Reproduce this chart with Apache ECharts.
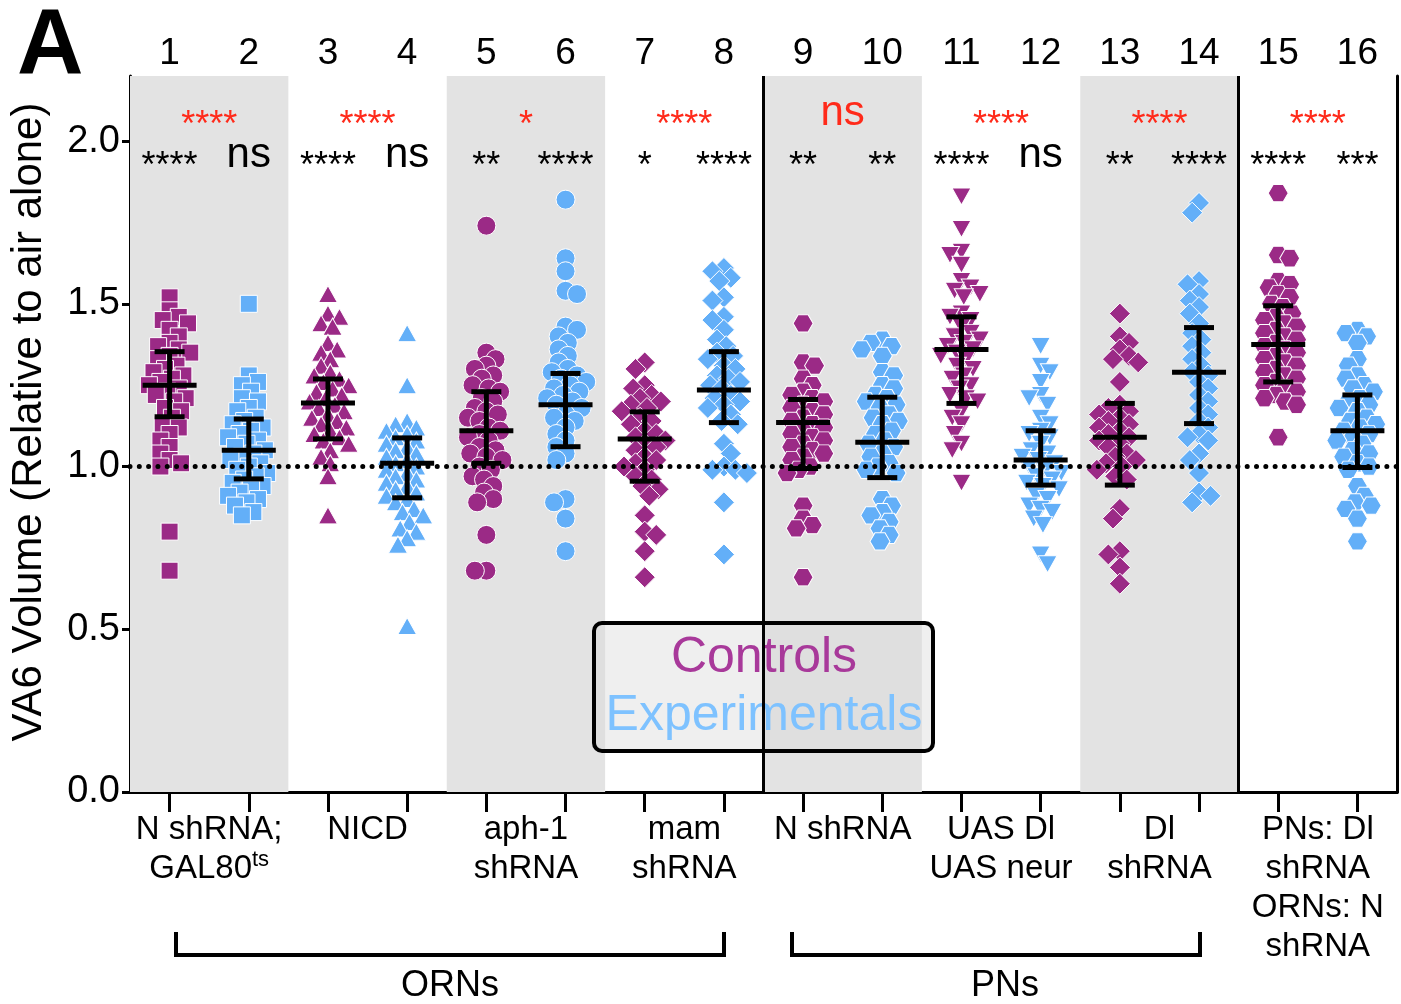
<!DOCTYPE html>
<html><head><meta charset="utf-8">
<script src="https://cdn.jsdelivr.net/npm/echarts@6/dist/echarts.min.js"></script>
<style>html,body{margin:0;padding:0;background:#fff}#c{width:1401px;height:1004px}</style>
</head><body><div id="c"></div>
<script>
// ---------------- data ----------------
const groupNumbers = ['1','2','3','4','5','6','7','8','9','10','11','12','13','14','15','16'];
const pairLabels = ['N shRNA;\nGAL80{sup|ts}', 'NICD', 'aph-1\nshRNA', 'mam\nshRNA', 'N shRNA', 'UAS Dl\nUAS neur', 'Dl\nshRNA', 'PNs: Dl\nshRNA\nORNs: N\nshRNA'];
const yTickValues = [0, 0.5, 1.0, 1.5, 2.0];

const grp1 = [1.52,1.48,1.46,1.45,1.44,1.42,1.40,1.38,1.37,1.36,1.35,1.34,1.33,1.31,1.30,1.29,1.28,1.27,1.26,1.25,1.24,1.23,1.22,1.21,1.20,1.18,1.17,1.15,1.13,1.12,1.10,1.08,1.06,1.04,1.02,1.01,1.00,0.80,0.68];
const grp2 = [1.50,1.28,1.26,1.25,1.23,1.21,1.20,1.18,1.17,1.15,1.14,1.13,1.12,1.11,1.10,1.09,1.08,1.07,1.06,1.05,1.04,1.03,1.02,1.01,1.00,0.99,0.98,0.97,0.96,0.95,0.94,0.93,0.92,0.91,0.90,0.89,0.88,0.86,0.85];
const grp3 = [1.53,1.47,1.46,1.44,1.43,1.38,1.36,1.35,1.33,1.31,1.29,1.28,1.27,1.26,1.25,1.24,1.23,1.22,1.21,1.20,1.19,1.18,1.17,1.16,1.15,1.14,1.13,1.12,1.11,1.10,1.09,1.08,1.07,1.05,1.03,1.01,0.97,0.85];
const grp4 = [1.41,1.25,1.14,1.13,1.12,1.11,1.10,1.09,1.08,1.07,1.06,1.05,1.04,1.03,1.02,1.01,1.00,0.99,0.98,0.97,0.96,0.95,0.94,0.93,0.92,0.91,0.90,0.89,0.87,0.86,0.85,0.83,0.81,0.80,0.78,0.76,0.51];
const grp5 = [1.74,1.35,1.33,1.31,1.30,1.28,1.27,1.25,1.24,1.23,1.21,1.20,1.18,1.17,1.16,1.15,1.14,1.12,1.11,1.10,1.09,1.08,1.06,1.05,1.04,1.03,1.02,1.00,0.99,0.97,0.96,0.94,0.92,0.90,0.89,0.79,0.68,0.68];
const grp6 = [1.82,1.64,1.60,1.54,1.53,1.43,1.42,1.40,1.38,1.36,1.34,1.32,1.30,1.29,1.28,1.27,1.26,1.25,1.24,1.23,1.22,1.21,1.20,1.19,1.18,1.16,1.15,1.14,1.12,1.10,1.08,1.06,1.04,1.02,0.90,0.89,0.84,0.74];
const grp7 = [1.32,1.30,1.25,1.24,1.22,1.21,1.20,1.19,1.18,1.17,1.15,1.14,1.13,1.11,1.10,1.09,1.08,1.07,1.06,1.05,1.03,1.02,1.01,1.00,0.99,0.97,0.96,0.94,0.93,0.91,0.85,0.80,0.79,0.74,0.66];
const grp8 = [1.61,1.60,1.58,1.57,1.52,1.51,1.46,1.45,1.42,1.39,1.37,1.35,1.34,1.33,1.31,1.30,1.28,1.27,1.26,1.25,1.24,1.22,1.21,1.20,1.19,1.18,1.16,1.14,1.13,1.07,1.04,1.00,0.99,0.99,0.98,0.89,0.73];
const grp9 = [1.44,1.32,1.31,1.27,1.25,1.23,1.22,1.21,1.20,1.19,1.18,1.17,1.16,1.15,1.14,1.13,1.12,1.11,1.10,1.09,1.08,1.07,1.06,1.05,1.04,1.03,1.02,1.00,0.99,0.98,0.88,0.84,0.82,0.81,0.66];
const grp10 = [1.39,1.38,1.37,1.36,1.34,1.29,1.28,1.25,1.24,1.22,1.21,1.20,1.19,1.18,1.16,1.15,1.14,1.13,1.11,1.10,1.08,1.07,1.06,1.04,1.03,1.01,1.00,0.99,0.98,0.90,0.88,0.86,0.85,0.83,0.81,0.79,0.77];
const grp11 = [1.83,1.73,1.66,1.65,1.62,1.57,1.55,1.54,1.53,1.52,1.47,1.46,1.45,1.43,1.41,1.40,1.39,1.38,1.37,1.36,1.35,1.34,1.33,1.31,1.30,1.28,1.27,1.25,1.24,1.22,1.21,1.20,1.17,1.15,1.13,1.10,1.07,1.05,0.95];
const grp12 = [1.37,1.31,1.29,1.26,1.22,1.21,1.19,1.15,1.13,1.11,1.10,1.09,1.07,1.05,1.04,1.03,1.02,1.01,1.00,0.99,0.98,0.97,0.96,0.95,0.94,0.93,0.91,0.90,0.88,0.87,0.86,0.84,0.82,0.73,0.70];
const grp13 = [1.47,1.40,1.38,1.36,1.34,1.33,1.32,1.26,1.19,1.18,1.17,1.16,1.15,1.14,1.13,1.12,1.11,1.10,1.09,1.08,1.07,1.06,1.04,1.03,1.02,1.01,1.00,0.99,0.97,0.96,0.87,0.84,0.74,0.73,0.69,0.64];
const grp14 = [1.81,1.78,1.57,1.56,1.53,1.51,1.49,1.47,1.44,1.41,1.39,1.37,1.35,1.33,1.31,1.29,1.28,1.26,1.24,1.22,1.20,1.18,1.16,1.14,1.12,1.10,1.09,1.08,1.04,1.02,0.98,0.92,0.91,0.89];
const grp15 = [1.84,1.65,1.64,1.57,1.56,1.55,1.53,1.52,1.50,1.49,1.47,1.46,1.45,1.44,1.43,1.42,1.41,1.40,1.39,1.38,1.37,1.36,1.35,1.34,1.33,1.32,1.31,1.30,1.29,1.28,1.27,1.26,1.25,1.24,1.23,1.22,1.21,1.20,1.19,1.09];
const grp16 = [1.42,1.41,1.40,1.38,1.33,1.31,1.28,1.27,1.25,1.24,1.23,1.21,1.20,1.19,1.18,1.17,1.15,1.14,1.13,1.12,1.11,1.10,1.09,1.08,1.07,1.05,1.04,1.03,1.01,1.00,0.99,0.94,0.91,0.89,0.88,0.87,0.84,0.77];

const meanVals = [1.25,1.05,1.195,1.01,1.11,1.19,1.085,1.235,1.135,1.075,1.36,1.02,1.09,1.29,1.375,1.11];
const errLow   = [1.153,0.962,1.085,0.904,1.01,1.061,0.955,1.135,0.994,0.966,1.194,0.943,0.943,1.132,1.26,0.997];
const errHigh  = [1.353,1.146,1.269,1.088,1.23,1.286,1.168,1.353,1.206,1.213,1.46,1.11,1.194,1.427,1.494,1.22];

const sigVsAir  = ['****','ns','****','ns','**','****','*','****','**','**','****','ns','**','****','****','***'];
const sigPair   = ['****','****','*','****','ns','****','****','****'];
const referenceLevel = 1.0;

// ---------------- layout / style ----------------
const FONT = "'Liberation Sans', Arial, Helvetica, sans-serif";
const MAGENTA = '#9B2A86';
const BLUE = '#63AFF8';
const GRID = {left:130, right:4, top:76, bottom:212};
const W = 1401, H = 1004;
const YMAX = 2.2;
const pxPerX = (W - GRID.left - GRID.right) / 16;
const pxPerY = (H - GRID.top - GRID.bottom) / YMAX;
const HEX = 'path://M0,0.866L0.5,0L1.5,0L2,0.866L1.5,1.732L0.5,1.732Z';
const DOWN = 'path://M0,0L2,0L1,1.732Z';
const pairSymbols = ['rect','triangle','circle','diamond',HEX,DOWN,'diamond',HEX];
const pairSizes = [[17,17],[19,17],[19,19],[21,21],[20,17.3],[19,17],[21,21],[20,17.3]];
const groups = [grp1,grp2,grp3,grp4,grp5,grp6,grp7,grp8,grp9,grp10,grp11,grp12,grp13,grp14,grp15,grp16];

// deterministic beeswarm offsets (pixels)
function swarm(vals){
  const minD = 11, step = 2.3, maxK = 11;
  const order = vals.map((v,i)=>i).sort((a,b)=>vals[b]-vals[a]);
  const placed = [], res = new Array(vals.length);
  let flip = 1;
  order.forEach(i=>{
    const y = vals[i]*pxPerY;
    const cands=[0];
    for(let k=1;k<=maxK;k++){cands.push(flip*k*step, -flip*k*step);}
    let bestX=0, bestScore=-1;
    for(const cx of cands){
      let md=Infinity;
      for(const p of placed){const d=Math.hypot(p.x-cx,p.y-y); if(d<md) md=d;}
      if(md>=minD){bestX=cx; bestScore=Infinity; break;}
      if(md>bestScore){bestScore=md; bestX=cx;}
    }
    flip = -flip;
    placed.push({x:bestX,y}); res[i]=bestX;
  });
  return res;
}

function buildSeriesData(parity){
  const out=[];
  groups.forEach((vals,gi)=>{
    if(gi%2!==parity) return;
    const offs = swarm(vals);
    const pair = Math.floor(gi/2);
    vals.forEach((v,j)=>{
      out.push({value:[gi+1+offs[j]/pxPerX, v], symbol:pairSymbols[pair], symbolSize:pairSizes[pair]});
    });
  });
  return out;
}

const errData = meanVals.map((m,i)=>[i+1, m, errLow[i], errHigh[i]]);
const sigData = sigVsAir.map((s,i)=>[i+1, 1.948, s, 0]);
const pairSigData = sigPair.map((s,i)=>[2*i+1.5, 2.075, s, 1]);

const chart = echarts.init(document.getElementById('c'), null, {renderer:'canvas'});
const option = {
  backgroundColor:'#fff',
  animation:false,
  textStyle:{fontFamily:FONT},
  grid:{left:GRID.left, right:GRID.right, top:GRID.top, bottom:GRID.bottom, show:false},
  legend:{
    left:594, top:623, orient:'vertical', selectedMode:false,
    icon:'none', itemWidth:0, itemHeight:0, itemGap:8,
    padding:[10,4,10,0],
    backgroundColor:'rgba(218,218,218,0.43)', borderColor:'#000', borderWidth:4, borderRadius:8,
    formatter: n => n==='Controls' ? '{c|'+n+'}' : '{e|'+n+'}',
    textStyle:{rich:{
      c:{color:'#A8399A', fontSize:50, width:330, align:'center', lineHeight:54, fontFamily:FONT},
      e:{color:'#7EC2FF', fontSize:50, width:330, align:'center', lineHeight:54, fontFamily:FONT}
    }},
    data:['Controls','Experimentals']
  },
  xAxis:[
    {type:'value', min:0.5, max:16.5, position:'bottom', axisLine:{show:true, onZero:false, lineStyle:{color:'#000', width:3}},
     axisTick:{show:false}, axisLabel:{show:false}, splitLine:{show:false}},
    {type:'category', data:groupNumbers, position:'bottom', gridIndex:0,
     axisLine:{show:false}, axisTick:{show:true, alignWithLabel:true, length:20, lineStyle:{color:'#000', width:3}},
     axisLabel:{show:false}, splitLine:{show:false}},
    {type:'category', data:groupNumbers, position:'top', gridIndex:0,
     axisLine:{show:true, lineStyle:{color:'#000', width:3}}, axisTick:{show:false},
     axisLabel:{show:true, color:'#000', fontSize:37, margin:4, fontFamily:FONT}},
    {type:'category', data:pairLabels, position:'bottom', gridIndex:0,
     axisLine:{show:false}, axisTick:{show:false},
     axisLabel:{show:true, interval:0, color:'#000', fontSize:33, lineHeight:39, margin:18, fontFamily:FONT,
       rich:{sup:{fontSize:22, verticalAlign:'top', lineHeight:39, padding:[0,0,14,0], color:'#000', fontFamily:FONT}}}}
  ],
  yAxis:[
    {type:'value', min:0, max:YMAX, interval:0.5, position:'left',
     name:'VA6 Volume (Relative to air alone)', nameLocation:'middle', nameGap:80,
     nameTextStyle:{fontSize:42, color:'#000', fontFamily:FONT, padding:[0,0,0,24]},
     axisLine:{show:true, lineStyle:{color:'#000', width:3}},
     axisTick:{show:true, customValues:yTickValues, length:8, lineStyle:{color:'#000', width:3}},
     axisLabel:{show:true, customValues:yTickValues, formatter:v=>v.toFixed(1), color:'#000', fontSize:38, margin:10, fontFamily:FONT},
     splitLine:{show:false}},
    {type:'value', min:0, max:YMAX, position:'right',
     axisLine:{show:true, lineStyle:{color:'#000', width:3}}, axisTick:{show:false}, axisLabel:{show:false}, splitLine:{show:false}}
  ],
  graphic:[
    {type:'text', left:17, top:2, style:{text:'A', font:'900 92px '+FONT, fill:'#000'}},
    {type:'polyline', shape:{points:[[176,932],[176,955],[724,955],[724,932]]}, style:{stroke:'#000', lineWidth:4, fill:null}},
    {type:'polyline', shape:{points:[[792,932],[792,955],[1200,955],[1200,932]]}, style:{stroke:'#000', lineWidth:4, fill:null}},
    {type:'text', x:450, y:986, style:{text:'ORNs', font:'36px '+FONT, fill:'#000', align:'center', verticalAlign:'middle', textAlign:'center', textVerticalAlign:'middle'}},
    {type:'text', x:1005, y:986, style:{text:'PNs', font:'36px '+FONT, fill:'#000', align:'center', verticalAlign:'middle', textAlign:'center', textVerticalAlign:'middle'}}
  ],
  series:[
    {type:'line', name:'bg', xAxisIndex:0, yAxisIndex:0, data:[], z:1, silent:true,
     markArea:{silent:true, itemStyle:{color:'#E3E3E3'}, data:[
       [{xAxis:0.5},{xAxis:2.5}],[{xAxis:4.5},{xAxis:6.5}],[{xAxis:8.5},{xAxis:10.5}],[{xAxis:12.5},{xAxis:14.5}]
     ]},
     markLine:{silent:true, symbol:'none', label:{show:false}, animation:false, data:[
       {yAxis:referenceLevel, lineStyle:{color:'#000', width:5, type:[0.01,9.3], cap:'round'}},
       {xAxis:8.5, lineStyle:{color:'#000', width:3, type:'solid'}},
       {xAxis:14.5, lineStyle:{color:'#000', width:3, type:'solid'}}
     ]}},
    {type:'scatter', name:'Controls', xAxisIndex:0, yAxisIndex:0, z:3,
     itemStyle:{color:MAGENTA, borderColor:'#fff', borderWidth:1, opacity:1},
     data:buildSeriesData(0)},
    {type:'scatter', name:'Experimentals', xAxisIndex:0, yAxisIndex:0, z:3,
     itemStyle:{color:BLUE, borderColor:'#fff', borderWidth:1, opacity:1},
     data:buildSeriesData(1)},
    {type:'custom', name:'meanSD', xAxisIndex:0, yAxisIndex:0, z:5, silent:true,
     data:errData,
     renderItem:(params, api)=>{
       const x=api.value(0), m=api.value(1), lo=api.value(2), hi=api.value(3);
       const pm=api.coord([x,m]), pl=api.coord([x,lo]), ph=api.coord([x,hi]);
       const st={stroke:'#000', lineWidth:5};
       return {type:'group', children:[
         {type:'line', shape:{x1:pm[0]-27,y1:pm[1],x2:pm[0]+27,y2:pm[1]}, style:st},
         {type:'line', shape:{x1:pl[0],y1:pl[1],x2:ph[0],y2:ph[1]}, style:st},
         {type:'line', shape:{x1:pl[0]-15,y1:pl[1],x2:pl[0]+15,y2:pl[1]}, style:st},
         {type:'line', shape:{x1:ph[0]-15,y1:ph[1],x2:ph[0]+15,y2:ph[1]}, style:st}
       ]};
     }},
    {type:'custom', name:'sig', xAxisIndex:0, yAxisIndex:0, z:6, silent:true,
     data:sigData.concat(pairSigData),
     renderItem:(params, api)=>{
       const d = params.dataIndex < sigData.length ? sigData[params.dataIndex] : pairSigData[params.dataIndex - sigData.length];
       const p = api.coord([d[0], d[1]]);
       const txt = d[2], red = d[3]===1, isNs = txt==='ns';
       const fs = isNs ? 42 : 36;
       const dy = isNs ? -3 : 9;
       return {type:'text', x:p[0], y:p[1]+dy, style:{text:txt, fill:red?'#FF2A1A':'#000', font:fs+'px '+FONT,
         align:'center', verticalAlign:'middle', textAlign:'center', textVerticalAlign:'middle'}};
     }}
  ]
};
chart.setOption(option);
</script></body></html>
